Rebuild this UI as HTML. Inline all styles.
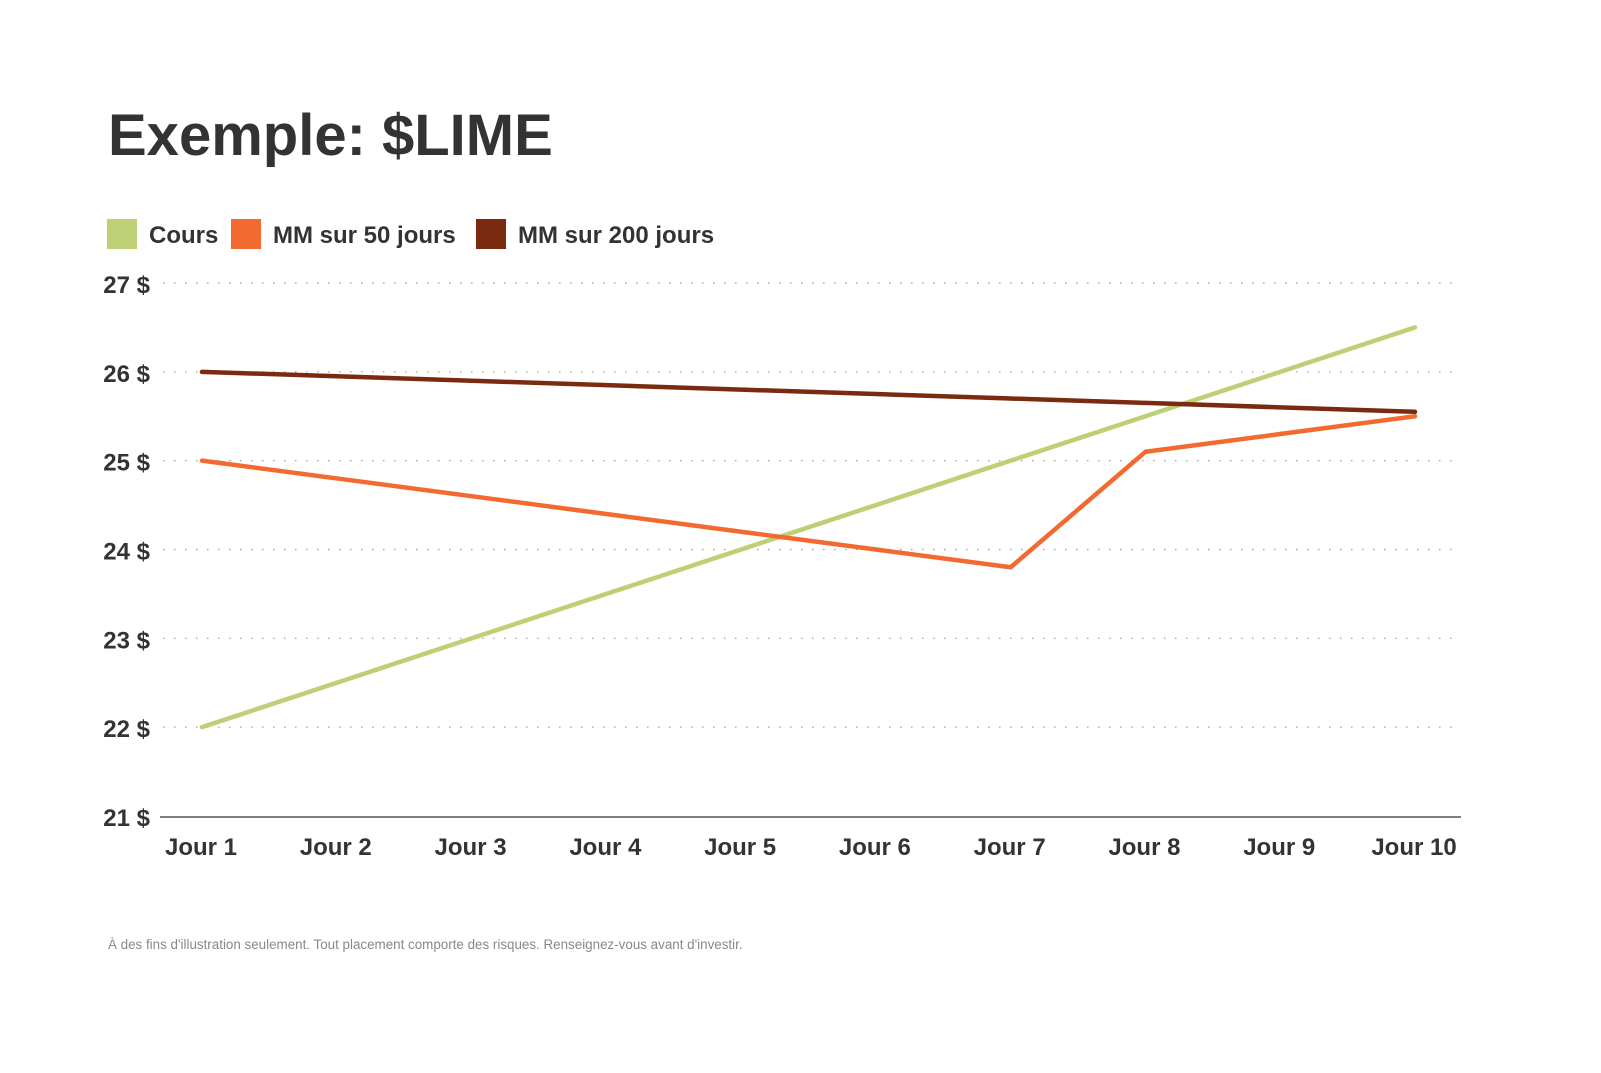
<!DOCTYPE html>
<html><head><meta charset="utf-8">
<style>
body{margin:0;background:#fff;}
#wrap{position:relative;width:1601px;height:1073px;overflow:hidden;font-family:"Liberation Sans",sans-serif;color:#333;}
</style></head>
<body>
<div id="wrap">
<svg id="chart" width="1601" height="1073" xmlns="http://www.w3.org/2000/svg">
<text x="108" y="155" font-family="Liberation Sans, sans-serif" font-weight="bold" font-size="58" fill="#333">Exemple: $LIME</text>
<g font-family="Liberation Sans, sans-serif" font-weight="bold" font-size="24" fill="#333">
<rect x="107" y="219" width="30" height="30" fill="#bdd075"/>
<text x="149" y="243">Cours</text>
<rect x="231" y="219" width="30" height="30" fill="#f26a30"/>
<text x="273" y="243">MM sur 50 jours</text>
<rect x="476" y="219" width="30" height="30" fill="#7a2a0e"/>
<text x="518" y="243">MM sur 200 jours</text>
</g>
<g id="grid"></g>
<g id="axes"></g>
<g id="series"></g>
<text x="108" y="949" font-family="Liberation Sans, sans-serif" font-size="13.4" fill="#888">À des fins d'illustration seulement. Tout placement comporte des risques. Renseignez-vous avant d'investir.</text>
</svg>
</div>
<script>
const categories=["Jour 1","Jour 2","Jour 3","Jour 4","Jour 5","Jour 6","Jour 7","Jour 8","Jour 9","Jour 10"];
const cours=[22,22.5,23,23.5,24,24.5,25,25.5,26,26.5];
const mm50=[25,24.8,24.6,24.4,24.2,24.0,23.8,25.1,25.3,25.5];
const mm200=[26,25.95,25.9,25.85,25.8,25.75,25.7,25.65,25.6,25.55];
const yTicks=[21,22,23,24,25,26,27];
const yTickLabels=["21 $","22 $","23 $","24 $","25 $","26 $","27 $"];

const NS="http://www.w3.org/2000/svg";
const yMin=21,yMax=27,yTop=283,yBot=816;
const xFirst=202,xLast=1415;
function y(v){return yBot-(v-yMin)/(yMax-yMin)*(yBot-yTop);}
function x(i){return xFirst+i*(xLast-xFirst)/(categories.length-1);}
function mk(tag,attrs,parent){const e=document.createElementNS(NS,tag);for(const k in attrs)e.setAttribute(k,attrs[k]);parent.appendChild(e);return e;}
const grid=document.getElementById('grid'),axes=document.getElementById('axes'),series=document.getElementById('series');
yTicks.forEach((t,i)=>{
  if(t!==yMin){
    const l=mk('line',{x1:163,x2:1461,y1:y(t),y2:y(t),stroke:'#999','stroke-width':1.2,'stroke-dasharray':'1.5 9.5'},grid);
    
    
  }
  const tx=mk('text',{x:150,y:y(t)+10,'text-anchor':'end','font-family':'Liberation Sans, sans-serif','font-weight':'bold','font-size':24,fill:'#333'},axes);
  tx.textContent=yTickLabels[i];
  
  
});
const base=mk('line',{x1:160,x2:1461,y1:yBot+1,y2:yBot+1,stroke:'#555','stroke-width':1.5},axes);


categories.forEach((c,i)=>{
  const tx=mk('text',{x:x(i)-1,y:855,'text-anchor':'middle','font-family':'Liberation Sans, sans-serif','font-weight':'bold','font-size':24,fill:'#333'},axes);
  tx.textContent=c;
  
  
});
function line(vals,color,name){
  const p=mk('polyline',{points:vals.map((v,i)=>x(i)+','+y(v)).join(' '),fill:'none',stroke:color,'stroke-width':4.5,'stroke-linejoin':'round','stroke-linecap':'round'},series);
  
  
}
line(cours,'#bdd075','series-cours');
line(mm50,'#f26a30','series-mm50');
line(mm200,'#7a2a0e','series-mm200');
</script>
</body></html>
